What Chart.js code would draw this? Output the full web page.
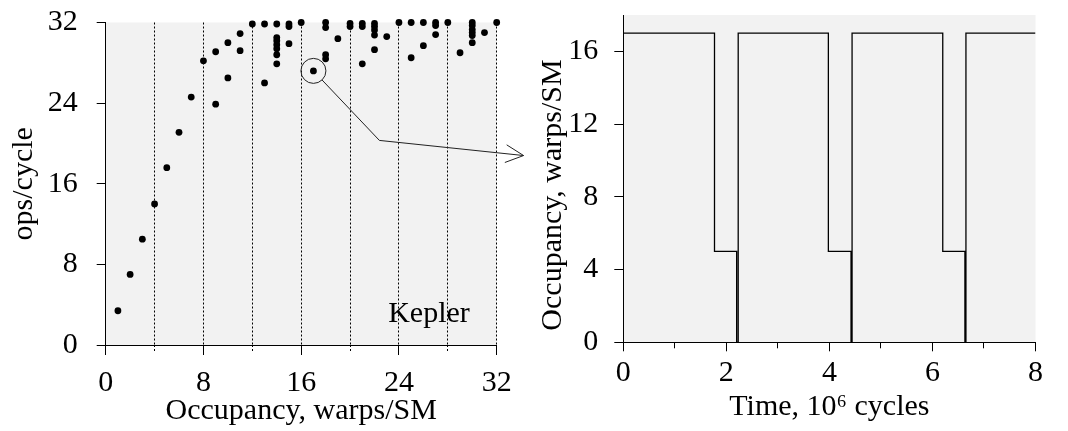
<!DOCTYPE html>
<html>
<head>
<meta charset="utf-8">
<script src="https://cdn.jsdelivr.net/npm/chart.js@4.4.1/dist/chart.umd.min.js"></script>
<style>
  body { margin: 0; background: #fff; }
  #wrap { position: relative; width: 1068px; height: 431px; }
  canvas { position: absolute; top: 0; }
  #ops-chart { left: 0; }
  #occ-chart { left: 534px; }
</style>
</head>
<body>
<div id="wrap">
  <canvas id="ops-chart" width="534" height="431"></canvas>
  <canvas id="occ-chart" width="534" height="431"></canvas>
</div>
<script>
// throughput vs occupancy, one point per kernel launch
const occupancy = [
  1, 2, 3, 4, 5, 6, 7, 8,
  9, 9, 10, 10, 11, 11, 12, 13, 13,
  14, 14, 14, 14, 14, 14, 14,
  15, 15, 15, 16, 17,
  18, 18, 18, 18, 19, 20, 20,
  21, 21, 21, 22, 22, 22, 22, 22, 23,
  24, 25, 25, 26, 26, 27, 27, 27, 28, 29,
  30, 30, 30, 30, 30, 30, 31, 32
];
const opsPerCycle = [
  3.4, 7.0, 10.5, 14.0, 17.6, 21.1, 24.6, 28.2,
  23.9, 29.1, 26.5, 30.0, 29.2, 30.9, 31.85, 31.85, 26.0,
  31.85, 30.5, 30.2, 29.8, 29.4, 28.8, 27.9,
  31.85, 31.6, 29.9, 32.0, 27.2,
  32.0, 31.5, 28.8, 28.4, 30.4, 31.9, 31.6,
  31.9, 31.6, 27.9, 31.9, 31.6, 31.25, 30.75, 29.3, 30.6,
  32.0, 32.0, 28.5, 32.0, 29.7, 32.0, 31.7, 30.8, 32.0, 29.0,
  32.0, 31.7, 31.3, 31.0, 30.7, 30.0, 31.0, 32.0
];
const occTicks = [0, 8, 16, 24, 32];
const opsTicks = [0, 8, 16, 24, 32];

// the launch that the arrow points at (occupancy 17)
const calloutIndex = occupancy.indexOf(17);
const calloutElbow = [22.4, 20.3];
const calloutTip = [34.2, 18.8];

// occupancy trace over time, value holds until the next change
const timeMcycles = [0, 1.77, 2.20, 2.23, 3.98, 4.42, 4.44, 6.20, 6.63, 6.65, 8];
const warpsPerSM = [17, 5, 0, 17, 5, 0, 17, 5, 0, 17, 17];
const timeTicks = [0, 2, 4, 6, 8];
const warpTicks = [0, 4, 8, 12, 16];

const FONT = "'Liberation Serif', 'Times New Roman', serif";
Chart.defaults.font.family = FONT;
Chart.defaults.font.size = 30;
Chart.defaults.color = '#000';

const plotBackground = {
  id: 'plotBackground',
  beforeDraw(chart) {
    const {ctx, chartArea: a} = chart;
    ctx.save();
    ctx.fillStyle = '#f2f2f2';
    ctx.fillRect(a.left, a.top, a.right - a.left, a.bottom - a.top);
    ctx.restore();
  }
};

// shorter marks for the unlabelled x ticks
const minorTicks = {
  id: 'minorTicks',
  afterDraw(chart, args, opts) {
    const {ctx} = chart;
    const scale = chart.scales.x;
    ctx.save();
    ctx.strokeStyle = '#000';
    ctx.lineWidth = 1;
    ctx.setLineDash(opts.dash || []);
    scale.ticks.forEach(t => {
      if (t.label !== '') return;
      const x = Math.round(scale.getPixelForValue(t.value) - 0.5) + 0.5;
      ctx.beginPath();
      ctx.moveTo(x, scale.top);
      ctx.lineTo(x, scale.top + opts.length);
      ctx.stroke();
    });
    ctx.restore();
  }
};

const callout = {
  id: 'callout',
  afterDatasetsDraw(chart) {
    const {ctx, chartArea, scales: {x, y}} = chart;
    const cx = x.getPixelForValue(occupancy[calloutIndex]);
    const cy = y.getPixelForValue(opsPerCycle[calloutIndex]);
    const ex = x.getPixelForValue(calloutElbow[0]);
    const ey = y.getPixelForValue(calloutElbow[1]);
    const tx = x.getPixelForValue(calloutTip[0]);
    const ty = y.getPixelForValue(calloutTip[1]);
    const r = 12.5;

    ctx.save();
    ctx.strokeStyle = '#222';
    ctx.lineWidth = 1;
    ctx.beginPath();
    ctx.arc(cx, cy, r, 0, Math.PI * 2);
    ctx.stroke();

    const a0 = Math.atan2(ey - cy, ex - cx);
    ctx.beginPath();
    ctx.moveTo(cx + r * Math.cos(a0), cy + r * Math.sin(a0));
    ctx.lineTo(ex, ey);
    ctx.lineTo(tx, ty);
    ctx.stroke();

    // open arrow head
    const a1 = Math.atan2(ty - ey, tx - ex);
    ctx.beginPath();
    [-0.46, 0.46].forEach(d => {
      ctx.moveTo(tx, ty);
      ctx.lineTo(tx - 20 * Math.cos(a1 + d), ty - 20 * Math.sin(a1 + d));
    });
    ctx.stroke();

    ctx.fillStyle = '#000';
    ctx.font = '30px ' + FONT;
    ctx.textAlign = 'left';
    ctx.textBaseline = 'alphabetic';
    ctx.fillText('Kepler', chartArea.right - 108.5, chartArea.bottom - 23.5);
    ctx.restore();
  }
};

const sideTitle = {
  id: 'sideTitle',
  afterDraw(chart, args, opts) {
    const {ctx} = chart;
    ctx.save();
    ctx.translate(opts.x, opts.y);
    ctx.rotate(-Math.PI / 2);
    ctx.font = '30px ' + FONT;
    ctx.fillStyle = '#000';
    ctx.textAlign = 'center';
    ctx.textBaseline = 'middle';
    ctx.fillText(opts.text, 0, 0);
    ctx.restore();
  }
};

const yFit = w => s => { s.width = w; s.paddingTop = 0; s.paddingBottom = 0; };
const xFit = h => s => { s.height = h; };

new Chart(document.getElementById('ops-chart'), {
  type: 'scatter',
  data: {
    datasets: [{
      data: occupancy.map((v, i) => ({x: v, y: opsPerCycle[i]})),
      pointRadius: 3.4,
      pointHoverRadius: 3.4,
      pointBackgroundColor: '#000',
      pointBorderWidth: 0,
      clip: false
    }]
  },
  options: {
    responsive: false,
    animation: false,
    events: [],
    layout: {padding: {top: 22.5, right: 37.3, bottom: 0, left: 0}},
    plugins: {
      legend: {display: false},
      tooltip: {enabled: false},
      minorTicks: {length: 8, dash: [2, 2]}
    },
    scales: {
      x: {
        type: 'linear',
        min: 0,
        max: 32,
        afterFit: xFit(86),
        ticks: {
          stepSize: 4,
          autoSkip: false,
          maxRotation: 0,
          padding: 10,
          callback: v => occTicks.includes(v) ? String(v) : ''
        },
        grid: {
          color: c => c.tick && c.tick.value === 0 ? 'rgba(0,0,0,0)' : '#000',
          lineWidth: 1,
          tickLength: 10,
          tickColor: c => c.tick && occTicks.includes(c.tick.value) ? '#000' : 'rgba(0,0,0,0)'
        },
        border: {color: '#000', width: 1, dash: [2, 2]},
        title: {display: true, text: 'Occupancy, warps/SM', padding: {top: 0, bottom: 2}}
      },
      y: {
        min: 0,
        max: 32,
        afterFit: yFit(105.7),
        ticks: {
          stepSize: 8,
          padding: 19,
          callback: v => opsTicks.includes(v) ? String(v) : ''
        },
        grid: {drawOnChartArea: false, tickLength: 9, color: '#000'},
        border: {color: '#000', width: 1},
        title: {display: true, text: 'ops/cycle', padding: {top: 6.5, bottom: 0}}
      }
    }
  },
  plugins: [plotBackground, minorTicks, callout]
});

new Chart(document.getElementById('occ-chart'), {
  type: 'line',
  data: {
    datasets: [{
      data: timeMcycles.map((t, i) => ({x: t, y: warpsPerSM[i]})),
      stepped: 'before',
      borderColor: '#000',
      borderWidth: 1.3,
      pointRadius: 0,
      fill: false
    }]
  },
  options: {
    responsive: false,
    animation: false,
    events: [],
    layout: {padding: {top: 15, right: 32.5, bottom: 0, left: 0}},
    plugins: {
      legend: {display: false},
      tooltip: {enabled: false},
      minorTicks: {length: 6},
      sideTitle: {text: 'Occupancy, warps/SM', x: 18.8, y: 195}
    },
    scales: {
      x: {
        type: 'linear',
        min: 0,
        max: 8,
        afterFit: xFit(88.7),
        ticks: {
          stepSize: 1,
          autoSkip: false,
          maxRotation: 0,
          padding: 4,
          callback: v => timeTicks.includes(v) ? String(v) : ''
        },
        grid: {
          drawOnChartArea: false,
          tickLength: 9,
          color: '#000',
          tickColor: c => c.tick && timeTicks.includes(c.tick.value) ? '#000' : 'rgba(0,0,0,0)'
        },
        border: {color: '#000', width: 1},
        title: {display: true, text: 'Time, 10\u2076 cycles', padding: {top: 0, bottom: 6}}
      },
      y: {
        min: 0,
        max: 18,
        afterFit: yFit(89.3),
        ticks: {
          stepSize: 4,
          includeBounds: false,
          padding: 16,
          callback: v => warpTicks.includes(v) ? String(v) : ''
        },
        grid: {drawOnChartArea: false, tickLength: 9, color: '#000'},
        border: {color: '#000', width: 1}
      }
    }
  },
  plugins: [plotBackground, minorTicks, sideTitle]
});
</script>
</body>
</html>
